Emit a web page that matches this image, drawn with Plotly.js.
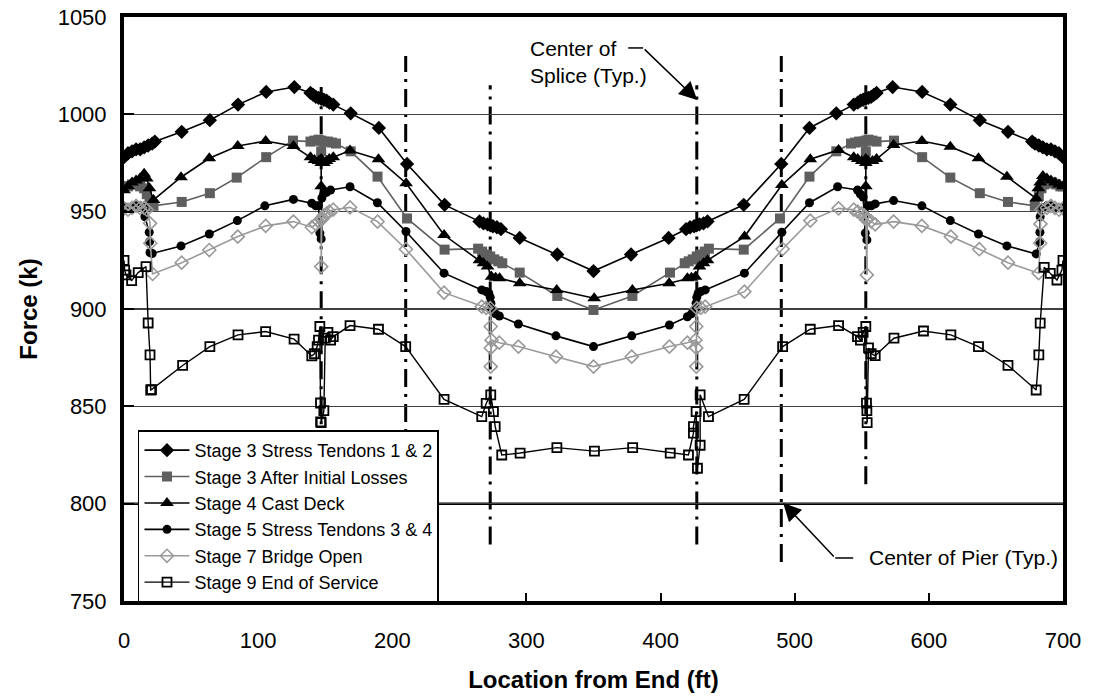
<!DOCTYPE html>
<html>
<head>
<meta charset="utf-8">
<script src="https://cdn.plot.ly/plotly-3.0.1.min.js"></script>
<style>html,body{margin:0;padding:0;background:#fff;}#chart{width:1098px;height:698px;}</style>
</head>
<body>
<div id="chart"></div>
<script>
// Series names
var seriesNames = ["Stage 3 Stress Tendons 1 & 2", "Stage 3 After Initial Losses", "Stage 4 Cast Deck",
  "Stage 5 Stress Tendons 3 & 4", "Stage 7 Bridge Open", "Stage 9 End of Service"];

// Stage 3 Stress Tendons 1 & 2
var s1x = [0,3,6,9,12,15,18,21,23, 43,64,85,106,127, 139,141,143,145,147,149,151,153,156, 169,190,211,239, 265,268,271,273,275,278,281, 295,323,350,378,406, 419,422,425,427,429,432,435, 462,490,511,531, 544,547,549,551,553,555,557,559,561, 573,595,616,638,659, 677,679,682,685,688,691,694,697,700];
var s1y = [978,980,981,982,982,983,984,985,986, 991,997,1005,1011.5,1014, 1011,1010,1009,1008.5,1008,1007.5,1007,1006,1005, 1000.5,993,974.5,953.5, 945,944,943.5,943,942.5,942,941, 936.5,928,919.5,928,936.5, 941,942,942.5,943,943.5,944,945, 953.5,974.5,993,1000.5, 1005,1006,1007,1007.5,1008,1008.5,1009,1010,1011, 1014,1011.5,1005,997,991, 986,985,984,983,982,982,981,980,978];

// Stage 3 After Initial Losses
var s2x = [0,3,6,9,12,15,17,19,22, 43,64,84,106,126, 139,142,145,147,147,149,152,155,158, 169,189,211,239, 264,267,270,273,276,279,282, 295,323,350,379,407, 418,421,424,427,430,433,436, 462,489,511,531, 542,545,548,551,553,553,555,558,561, 574,595,616,638,659, 679,682,684,686,689,692,695,698,700];
var s2y = [963,963,964,964,963,962,959,956,953, 955,959.5,967.5,978,986.5, 986,986.5,987,986.5,981,986,986,985.5,985, 981,968,946.5,930.5, 931,929.5,928,927,925.5,924.5,923.5, 918.7,906.7,899.5,906.7,918.7, 923.5,924.5,925.5,927,928,929.5,931, 930.5,946.5,968,981, 985,985.5,986,986,981,986.5,987,986.5,986, 986.5,978,967.5,959.5,955, 953,958,962,964,964.5,965,964,963,963];

// Stage 4 Cast Deck
var s3x = [0,3,6,9,12,15,17,19,22, 42.5,63.6,84.8,105.6,126.3, 139,142,145,147,147,147,149,151,153,156, 168.5,189.7,210.3,238.6, 265,268,271,274,277,280, 295,322.6,350.5,379,406.4, 420,423,426,429,432,435, 462.6,490.4,511.6,532.7, 544,547,550,553,553,553,555,558,561, 573.7,594.8,616,637,658.2, 680,681.6,683,685,688,691,694,697,700];
var s3y = [961,963,965,966,967,969.5,967,962,956, 967.7,977.4,983.7,986.3,983.7, 978,976.5,976,977,963,975,975,976,977,978, 981.4,976.9,964.6,938, 925,923.5,921.8,916.6,916,915.8, 913.2,909.8,905.5,909.8,913.2, 915.8,916,916.6,921.8,923.5,925, 937.2,963.7,976.9,981.7, 978,977,976,975,963,977,976,976,977, 984.3,986.3,983.4,977.4,968, 956.8,962,965,968.3,967,966,965,964,963];

// Stage 5 Stress Tendons 3 & 4
var s4x = [0,3,6,9,12,15,15.6,18.8,19.1,19.4,21, 42.5,63.6,84.5,105,126.3, 140,143,145,146,147,147.5,149,151,154, 168.5,188.9,210.2,238.6, 266.7,270,272,273,273.5,274,277,279.8, 294,322,350,378.5,406.6, 420,423,426,426.5,427,428,430,433.3, 462.5,490.4,511,532, 546.8,549,551,552.6,553.8,554.5,557,560, 573.7,594.8,616,637,658.2, 680,682.6,682.8,683,685,688,691,694,697,700];
var s4y = [952.6,952,952,953,953,952,947.4,939.4,934.6,929,928.5, 932.4,938.5,945.4,953,956.3, 954.3,953,953,939,936,957,959.4,960,961.1, 962.8,954.6,939.8,918.4, 909.8,909,908,906,903,900,897.5,896.4, 892.3,886.2,880.7,886.2,891.8, 896,897.5,900,903,906,908,909,909.8, 918.4,939.4,954.6,962.8, 961.1,959,957.5,939,935.5,953,953,954, 955.7,953,945.4,938.5,932.4, 928.3,934.6,939.4,947.4,952,953,953,952,952,952];

// Stage 7 Bridge Open
var s5x = [0,3,6,9,12,15,17,19.4,19.6,21.3, 43,63.6,84.8,105.6,126.3, 140,143,145,147,147,147.5,149,151,153,156, 168.5,189,210.2,238.6, 266.7,270,273,273.4,273.4,273.4,274,279.8, 294,322,350,378.5,406.6, 420,426,426.6,426.6,426.6,427,430,433.3, 462.5,491,511.6,532.7, 544,547,550,552,553,553.8,554,557,560, 573.7,594.8,616.4,637.6,659, 681.8,683,683.2,684,688,691,694,697,700];
var s5y = [951.7,951,952,953,952,952,951,944,933.8,918, 923.8,930.3,937.2,942.7,944.9, 942,943.5,945,946,921.8,946,948,949,950,951, 952.2,944.9,930.7,908.4, 901.2,900.6,900.4,891,880,870.4,884,882.7, 880.7,875.5,870.4,875.5,880.7, 882.7,884,870.4,880,891,900.4,900.6,901.2, 908.9,930.8,945.4,951.7, 951,950,949,948,946,917.5,946,945,943.5, 944.9,942.7,937.2,930.7,923.8, 918.4,933.8,943.7,951,952,953,952,951,951.7];

// Stage 9 End of Service
var s6x = [0,0.5,1.5,5.7,10.6,16.4,18,19.4,19.9,20.5, 43.7,64,85,105.6,126.8, 140,142,144,145,146,146.5,146.6,147,149,150,152,154,156, 168.5,189.7,210,238.6, 266.7,270,273.4,275.4,276.7,281.6, 295.3,322.7,350.7,379.2,407.2, 420.8,424.5,424.5,426.5,427.5,429.5,429.5,435.7, 462.3,491,511.6,532.7, 546.8,549,551,553,553.5,553.8,554,555,557,560, 574,596,616.4,637,659, 680,682,683,686,690.5,695.5,699.2,700];
var s6y = [925,920,917.5,914.6,918.7,921.8,892.8,876.4,858.4,858.6, 871,880.7,886.7,888.4,884.5, 875.9,877,880.7,884,891,851.7,842,841.6,847.8,885,888,884,885.8, 891.5,889.6,880.7,853.6, 844.7,851.5,855.9,847.3,839.6,825, 826,828.8,827,828.8,826, 825,836.2,839.6,847.3,818.2,830,855.9,844.7, 853.6,880.7,889.6,891.5, 885.8,884,888,891,851.6,847.8,841.6,880,877,876, 885,888.7,886.7,880.7,871, 858.4,876.4,892.7,921.4,918.3,914.9,920,925];

// Reference lines: splice centers and pier centers
var spliceX = [147, 273, 427, 553];
var spliceTop = [1014, 1015, 1015, 1015];
var spliceBottom = [810, 779, 779, 810];
var pierX = [210, 490];
var pierTop = [1030, 1030];
var pierBottom = [770, 770];

var FONT = "Liberation Sans, Arial, Helvetica, sans-serif";

function tr(x, y, name, color, symbol, size, lw, mline) {
  return {
    x: x, y: y, name: name, type: "scatter", mode: "lines+markers",
    line: {color: color, width: lw},
    marker: {symbol: symbol, size: size, color: color, line: mline || {width: 0}}
  };
}

var data = [
  tr(s1x, s1y, seriesNames[0], "#000000", "diamond", 11, 1.6),
  tr(s2x, s2y, seriesNames[1], "#5f5f5f", "square", 10, 1.6),
  tr(s3x, s3y, seriesNames[2], "#000000", "triangle-up", 12, 1.6),
  tr(s4x, s4y, seriesNames[3], "#000000", "circle", 9, 1.6),
  tr(s5x, s5y, seriesNames[4], "#9a9a9a", "diamond-open", 10, 1.6, {width: 1.6, color: "#9a9a9a"}),
  tr(s6x, s6y, seriesNames[5], "#000000", "square-open", 9, 1.4, {width: 1.8, color: "#000000"})
];

var shapes = [];
for (var i = 0; i < spliceX.length; i++) {
  shapes.push({type: "line", xref: "x", yref: "y", x0: spliceX[i], x1: spliceX[i], y0: spliceBottom[i], y1: spliceTop[i],
    line: {color: "#000", width: 3, dash: "18px,7px,3px,7px"}, layer: "below"});
}
for (var j = 0; j < pierX.length; j++) {
  shapes.push({type: "line", xref: "x", yref: "y", x0: pierX[j], x1: pierX[j], y0: pierBottom[j], y1: pierTop[j],
    line: {color: "#000", width: 3, dash: "18px,7px,3px,7px"}, layer: "below"});
}
// thick 800 line
shapes.push({type: "line", xref: "paper", yref: "y", x0: 0, x1: 1, y0: 800, y1: 800, line: {color: "#000", width: 2.5}, layer: "below"});
// leader horizontal pieces
shapes.push({type: "line", xref: "x", yref: "y", x0: 375.9, x1: 387, y0: 1034.1, y1: 1034.1, line: {color: "#000", width: 1.5}});
shapes.push({type: "line", xref: "x", yref: "y", x0: 530.2, x1: 543.6, y0: 772.1, y1: 772.1, line: {color: "#000", width: 1.5}});

var annotations = [
  {xref: "x", yref: "y", x: 301.3, y: 1026.9, xanchor: "left", yanchor: "middle", align: "left",
   text: "Center of<br>Splice (Typ.)", showarrow: false, font: {family: FONT, size: 21, color: "#000"}},
  {xref: "x", yref: "y", x: 554.1, y: 772.1, xanchor: "left", yanchor: "middle", align: "left",
   text: "Center of Pier (Typ.)", showarrow: false, font: {family: FONT, size: 21, color: "#000"}},
  {xref: "x", yref: "y", x: 427.3, y: 1007.4, axref: "x", ayref: "y", ax: 387, ay: 1034.1, text: "",
   showarrow: true, arrowhead: 2, arrowsize: 2.4, arrowwidth: 1.5, arrowcolor: "#000"},
  {xref: "x", yref: "y", x: 491.4, y: 800.4, axref: "x", ayref: "y", ax: 530.2, ay: 772.1, text: "",
   showarrow: true, arrowhead: 2, arrowsize: 2.4, arrowwidth: 1.5, arrowcolor: "#000"}
];

var layout = {
  width: 1098, height: 698,
  margin: {l: 124, r: 35, t: 17, b: 97},
  paper_bgcolor: "#fff", plot_bgcolor: "#fff",
  font: {family: FONT, color: "#000", size: 20},
  showlegend: true,
  legend: {x: 0.0149, y: 0.292, xanchor: "left", yanchor: "top", bgcolor: "#fff", bordercolor: "#000", borderwidth: 1.5,
    font: {family: FONT, size: 18, color: "#000"}, tracegroupgap: 0, itemwidth: 45},
  xaxis: {range: [0, 700], dtick: 100, tick0: 0, ticks: "inside", ticklen: 8, tickwidth: 2, tickcolor: "#000",
    showline: true, linewidth: 4, linecolor: "#000", mirror: true, showgrid: false, zeroline: false,
    tickfont: {family: FONT, size: 22, color: "#000"}, ticklabelstandoff: 17,
    title: {text: "<b>Location from End (ft)</b>", font: {family: FONT, size: 24, color: "#000"}, standoff: 20}},
  yaxis: {range: [750, 1050], dtick: 50, tick0: 750, ticks: "inside", ticklen: 10, tickwidth: 2, tickcolor: "#000",
    showline: true, linewidth: 4, linecolor: "#000", mirror: true, showgrid: true, gridcolor: "#404040", gridwidth: 1.5,
    zeroline: false, tickfont: {family: FONT, size: 22, color: "#000"}, ticklabelstandoff: 9,
    title: {text: "<b>Force (k)</b>", font: {family: FONT, size: 24, color: "#000"}, standoff: 14}},
  shapes: shapes,
  annotations: annotations
};

Plotly.newPlot("chart", data, layout, {staticPlot: true, displayModeBar: false});
</script>
</body>
</html>
